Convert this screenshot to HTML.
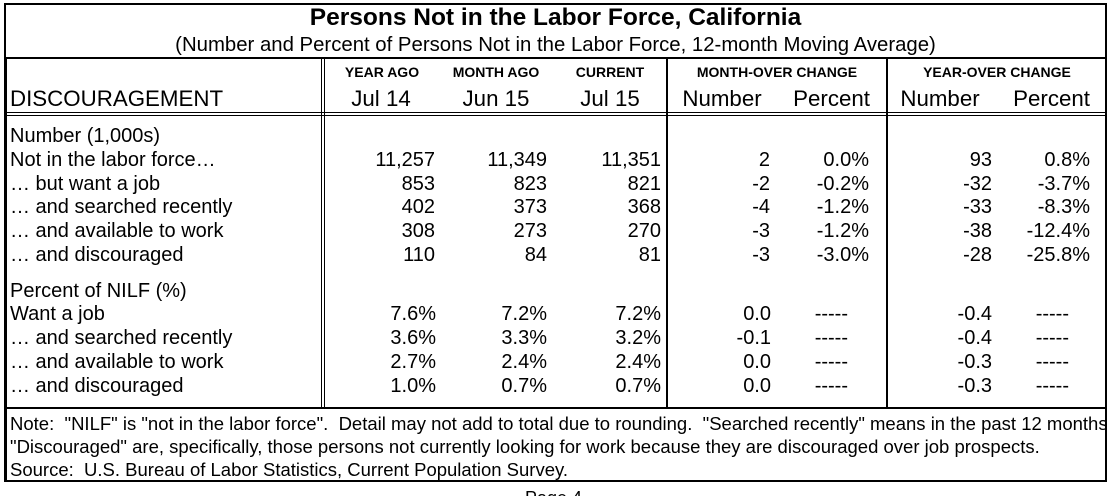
<!DOCTYPE html>
<html>
<head>
<meta charset="utf-8">
<style>
  html, body { margin:0; padding:0; background:#fff; width:1118px; height:496px; overflow:hidden; }
  #wrap { position:absolute; left:0; top:0; width:1118px; height:496px; overflow:hidden;
         font-family:"Liberation Sans", Arial, sans-serif; color:#000; background:#fff; }
  .ln { position:absolute; background:#000; }
  .t { position:absolute; white-space:pre; }
  .r { text-align:right; width:200px; }
  .c { text-align:center; width:300px; }
  .d { font-size:20px; line-height:23.8px; }
  .hs { font-size:14px; font-weight:bold; line-height:18px; }
  .hb { font-size:22.3px; line-height:26px; }
</style>
</head>
<body>
<div id="wrap">
<!-- outer border -->
<div class="ln" style="left:4px;top:3px;width:1103px;height:1.5px"></div>
<div class="ln" style="left:4px;top:479.5px;width:1103px;height:2px"></div>
<div class="ln" style="left:4px;top:3px;width:2px;height:478px"></div>
<div class="ln" style="left:4px;top:57px;width:3px;height:424px"></div>
<div class="ln" style="left:1105px;top:3px;width:2px;height:478px"></div>
<!-- title divider -->
<div class="ln" style="left:4px;top:56.5px;width:1103px;height:2px"></div>
<!-- header double line -->
<div class="ln" style="left:4px;top:111.5px;width:1103px;height:1.5px"></div>
<div class="ln" style="left:4px;top:114.5px;width:1103px;height:1.5px"></div>
<!-- data bottom -->
<div class="ln" style="left:4px;top:407px;width:1103px;height:2px"></div>
<!-- verticals -->
<div class="ln" style="left:320.5px;top:57px;width:1.5px;height:351px"></div>
<div class="ln" style="left:323.5px;top:57px;width:1.5px;height:351px"></div>
<div class="ln" style="left:665.5px;top:57px;width:2px;height:351px"></div>
<div class="ln" style="left:885.5px;top:57px;width:2px;height:351px"></div>

<!-- title -->
<div class="t c" style="left:255.5px;width:600px;top:4px;font-size:24.5px;font-weight:bold;line-height:28px">Persons Not in the Labor Force, California</div>
<div class="t c" style="left:155.5px;width:800px;top:33px;font-size:20.35px;line-height:24px">(Number and Percent of Persons Not in the Labor Force, 12-month Moving Average)</div>

<!-- header small -->
<div class="t c hs" style="left:232px;top:63px">YEAR AGO</div>
<div class="t c hs" style="left:346px;top:63px">MONTH AGO</div>
<div class="t c hs" style="left:460px;top:63px">CURRENT</div>
<div class="t c hs" style="left:627px;top:63px">MONTH-OVER CHANGE</div>
<div class="t c hs" style="left:847px;top:63px">YEAR-OVER CHANGE</div>

<!-- header big -->
<div class="t hb" style="left:10px;top:86px">DISCOURAGEMENT</div>
<div class="t c hb" style="left:231px;top:86px">Jul 14</div>
<div class="t c hb" style="left:346px;top:86px">Jun 15</div>
<div class="t c hb" style="left:460px;top:86px">Jul 15</div>
<div class="t c hb" style="left:572px;top:86px">Number</div>
<div class="t r hb" style="left:670px;top:86px">Percent</div>
<div class="t c hb" style="left:790px;top:86px">Number</div>
<div class="t r hb" style="left:890px;top:86px">Percent</div>

<!-- block A -->
<div class="t d" style="left:10px;top:125px">Number (1,000s)
Not in the labor force…
… but want a job
… and searched recently
… and available to work
… and discouraged</div>
<div class="t d r" style="left:235px;top:125px"> 
11,257
853
402
308
110</div>
<div class="t d r" style="left:347px;top:125px"> 
11,349
823
373
273
84</div>
<div class="t d r" style="left:461px;top:125px"> 
11,351
821
368
270
81</div>
<div class="t d r" style="left:570px;top:125px"> 
2
-2
-4
-3
-3</div>
<div class="t d r" style="left:669px;top:125px"> 
0.0%
-0.2%
-1.2%
-1.2%
-3.0%</div>
<div class="t d r" style="left:792px;top:125px"> 
93
-32
-33
-38
-28</div>
<div class="t d r" style="left:890px;top:125px"> 
0.8%
-3.7%
-8.3%
-12.4%
-25.8%</div>

<!-- block B -->
<div class="t d" style="left:10px;top:279.7px">Percent of NILF (%)
Want a job
… and searched recently
… and available to work
… and discouraged</div>
<div class="t d r" style="left:236px;top:279.7px"> 
7.6%
3.6%
2.7%
1.0%</div>
<div class="t d r" style="left:347px;top:279.7px"> 
7.2%
3.3%
2.4%
0.7%</div>
<div class="t d r" style="left:461px;top:279.7px"> 
7.2%
3.2%
2.4%
0.7%</div>
<div class="t d r" style="left:571px;top:279.7px"> 
0.0
-0.1
0.0
0.0</div>
<div class="t d r" style="left:648px;top:279.7px"> 
-----
-----
-----
-----</div>
<div class="t d r" style="left:792px;top:279.7px"> 
-0.4
-0.4
-0.3
-0.3</div>
<div class="t d r" style="left:869px;top:279.7px"> 
-----
-----
-----
-----</div>

<!-- notes -->
<div class="t" style="left:10px;top:411.5px;font-size:18.5px;line-height:23px">Note:  "NILF" is "not in the labor force".  Detail may not add to total due to rounding.  "Searched recently" means in the past 12 months
"Discouraged" are, specifically, those persons not currently looking for work because they are discouraged over job prospects.
Source:  U.S. Bureau of Labor Statistics, Current Population Survey.</div>

<div class="t" style="left:525px;top:487px;font-size:18px;line-height:22px">Page 4</div>
</div>
</body>
</html>
